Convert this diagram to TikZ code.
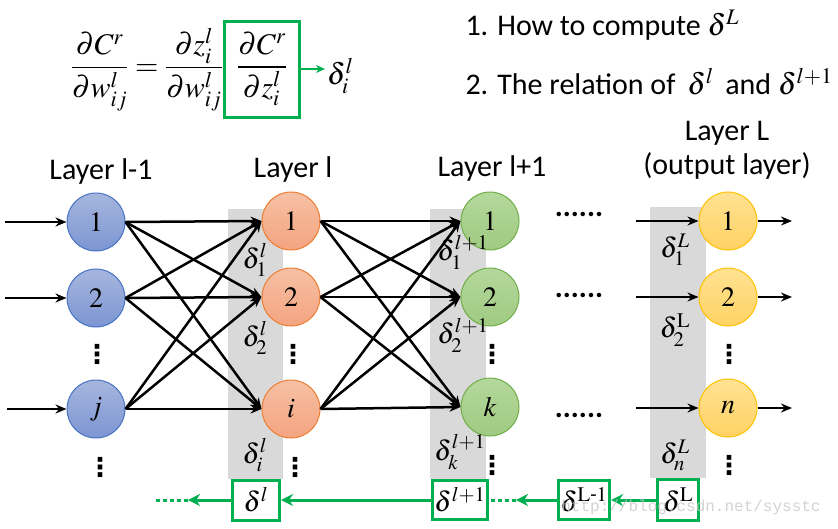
\documentclass[tikz,border=0pt]{standalone}
\usepackage{mathptmx}
\usepackage[no-math]{fontspec}
\setmainfont{Carlito}
\newfontfamily\wmfont{Liberation Mono}
\newfontfamily\symfont{DejaVu Sans}
\usepackage{amsmath}
\usetikzlibrary{arrows.meta,backgrounds,calc,positioning}
\definecolor{offgreen}{RGB}{0,176,80}
\definecolor{bluebd}{RGB}{68,114,196}
\definecolor{orangebd}{RGB}{237,125,49}
\definecolor{greenbd}{RGB}{112,173,71}
\definecolor{yellowbd}{RGB}{255,192,0}
\newcommand{\txtfont}{\fontsize{30}{34}\selectfont}
\newcommand{\numfont}{\fontsize{28}{30}\selectfont}
\newcommand{\eqfont}{\fontsize{30}{36}\selectfont}
\newcommand{\vdfont}{\symfont\bfseries\fontsize{26}{26}\selectfont}
\tikzset{
  neuron/.style={circle, minimum size=58pt, inner sep=0pt, line width=1pt, font=\numfont},
  prevnode/.style={neuron, draw=bluebd, top color={rgb,255:red,166;green,182;blue,222}, bottom color={rgb,255:red,124;green,149;blue,210}},
  curnode/.style={neuron, draw=orangebd, top color={rgb,255:red,246;green,192;blue,164}, bottom color={rgb,255:red,244;green,164;blue,128}},
  nextnode/.style={neuron, draw=greenbd, top color={rgb,255:red,180;green,216;blue,156}, bottom color={rgb,255:red,160;green,202;blue,130}},
  outnode/.style={neuron, draw=yellowbd, top color={rgb,255:red,255;green,226;blue,146}, bottom color={rgb,255:red,255;green,210;blue,100}},
  wire/.style={line width=2.5pt, -{Stealth[length=11pt,width=9pt]}},
  band/.style={fill=black!15},
  dlab/.style={font=\numfont, inner sep=0pt},
  vdot/.style={font=\vdfont, inner sep=0pt},
  hdot/.style={font=\txtfont\bfseries, inner sep=0pt},
  gbox/.style={draw=offgreen, line width=3pt, fill=white, inner sep=2pt, font=\numfont},
  garrow/.style={offgreen, line width=3pt, -{Stealth[length=12pt,width=12pt]}},
  gdots/.style={offgreen, line width=3pt, dash pattern=on 4pt off 3pt},
  laytxt/.style={font=\txtfont, align=center},
}
\begin{document}
\begin{tikzpicture}[x=1pt,y=-1pt]
\useasboundingbox (0,0) rectangle (838,528);
% shaded columns
\fill[band] (228,209) rectangle (283,479);
\fill[band] (430,209) rectangle (486,479);
\fill[band] (650,207) rectangle (706,478);

% formula
\node[font=\eqfont, anchor=east, inner sep=0pt] (lhs) at (223,70) {$\dfrac{\partial C^r}{\partial w^l_{ij}} = \dfrac{\partial z^l_i}{\partial w^l_{ij}}$};
\node[draw=offgreen, line width=3pt, minimum width=75pt, minimum height=96pt, inner sep=0pt, font=\eqfont] (dCdz) at (262,69) {$\dfrac{\partial C^r}{\partial z^l_i}$};
\node[font=\eqfont, anchor=west, inner sep=2pt] (dli) at (325,76) {$\delta^l_i$};
\draw[offgreen, line width=2pt, -{Stealth[length=9pt,width=8pt]}] (dCdz) -- (dCdz.east -| dli.west);

% questions
\node[font=\txtfont, anchor=west] (q1) at (462,25) {1. How to compute $\delta^L$};
\node[font=\txtfont, anchor=west] (q2) at (462,82) {2. The relation of \,$\delta^l$\, and $\delta^{l+1}$};

% layer titles
\node[laytxt] (tprev) at (101,171) {Layer l-1};
\node[laytxt] (tcur) at (293,169) {Layer l};
\node[laytxt] (tnext) at (492,168) {Layer l+1};
\node[laytxt] (tout) at (727,150) {Layer L\\(output layer)};

% neurons
\node[prevnode] (a1) at (96,222) {$1$};
\node[prevnode] (a2) at (96,298) {$2$};
\node[prevnode] (aj) at (96,409) {$j$};
\node[curnode] (b1) at (291,221) {$1$};
\node[curnode] (b2) at (291,297) {$2$};
\node[curnode] (bi) at (291,409) {$i$};
\node[nextnode] (c1) at (490,221) {$1$};
\node[nextnode] (c2) at (490,297) {$2$};
\node[nextnode] (ck) at (490,407) {$k$};
\node[outnode] (d1) at (728,221) {$1$};
\node[outnode] (d2) at (728,297) {$2$};
\node[outnode] (dn) at (728,408) {$n$};

% inputs and outputs
\coordinate (in1) at (5,222);
\coordinate (in2) at (5,298);
\coordinate (inj) at (7,409);
\coordinate (pre1) at (636,221);
\coordinate (pre2) at (636,297);
\coordinate (pren) at (636,408);
\coordinate (out1) at (792,221);
\coordinate (out2) at (792,297);
\coordinate (outn) at (792,408);
\draw[wire] (in1) -- (a1);
\draw[wire] (in2) -- (a2);
\draw[wire] (inj) -- (aj);
\draw[wire] (pre1) -- (d1);
\draw[wire] (pre2) -- (d2);
\draw[wire] (pren) -- (dn);
\draw[wire] (d1) -- (out1);
\draw[wire] (d2) -- (out2);
\draw[wire] (dn) -- (outn);

% layer l-1 to layer l
\draw[wire] (a1.east) -- (b1.west);
\draw[wire] (a1.east) -- (b2.west);
\draw[wire] (a1.east) -- (bi.west);
\draw[wire] (a2.east) -- (b1.west);
\draw[wire] (a2.east) -- (b2.west);
\draw[wire] (a2.east) -- (bi.west);
\draw[wire] (aj.east) -- (b1.west);
\draw[wire] (aj.east) -- (b2.west);
\draw[wire] (aj.east) -- (bi.west);
% layer l to layer l+1
\draw[wire] (b1.east) -- (c1.west);
\draw[wire] (b1.east) -- (c2.west);
\draw[wire] (b1.east) -- (ck.west);
\draw[wire] (b2.east) -- (c1.west);
\draw[wire] (b2.east) -- (c2.west);
\draw[wire] (b2.east) -- (ck.west);
\draw[wire] (bi.east) -- (c1.west);
\draw[wire] (bi.east) -- (c2.west);
\draw[wire] (bi.east) -- (ck.west);

% deltas
\node[dlab] (e1) at (255,260) {$\delta^l_1$};
\node[dlab] (e2) at (255,338) {$\delta^l_2$};
\node[dlab] (ei) at (255,455) {$\delta^l_i$};
\node[dlab] (f1) at (463,252) {$\delta^{l+1}_1$};
\node[dlab] (f2) at (463,335) {$\delta^{l+1}_2$};
\node[dlab] (fk) at (460,452) {$\delta^{l+1}_k$};
\node[dlab] (g1) at (675,250) {$\delta^L_1$};
\node[dlab] (g2) at (675,330) {$\delta^{\mathrm{L}}_2$};
\node[dlab] (gn) at (675,455) {$\delta^L_n$};

% dots
\node[vdot] (va2) at (97,354) {⋮};
\node[vdot] (vaj) at (100,467) {⋮};
\node[vdot] (vb2) at (293,354) {⋮};
\node[vdot] (vbi) at (295,467) {⋮};
\node[vdot] (vc2) at (492,354) {⋮};
\node[vdot] (vck) at (492,465) {⋮};
\node[vdot] (vd2) at (729,354) {⋮};
\node[vdot] (vdn) at (729,465) {⋮};
\node[hdot] (h1) at (579,214) {......};
\node[hdot] (h2) at (579,295) {......};
\node[hdot] (hn) at (579,415) {......};

% backward pass
\node[gbox, minimum width=47pt, minimum height=40pt] (gl) at (256,500) {$\delta^l$};
\node[gbox, minimum width=54pt, minimum height=39pt] (glp) at (460,500) {$\delta^{l+1}$};
\node[gbox, minimum width=47pt, minimum height=39pt] (gLm) at (584,500) {$\delta^{\mathrm{L\text{-}1}}$};
\node[gbox, minimum width=41pt, minimum height=41pt] (gL) at (678,500) {$\delta^{\mathrm{L}}$};
\coordinate (gap) at (516,500);
\coordinate (gout) at (188,500);
\coordinate (gend) at (155,500);
\draw[garrow] (gL) -- (gLm);
\draw[garrow] (gLm) -- (gap);
\draw[gdots] (gap) -- (glp);
\draw[garrow] (glp) -- (gl);
\draw[garrow] (gl) -- (gout);
\draw[gdots] (gout) -- (gend);

% watermark
\node[font=\wmfont\fontsize{16}{18}\selectfont, text=black!22, opacity=0.8] (wm) at (691,507) {http://blog.csdn.net/sysstc};
\end{tikzpicture}
\end{document}
